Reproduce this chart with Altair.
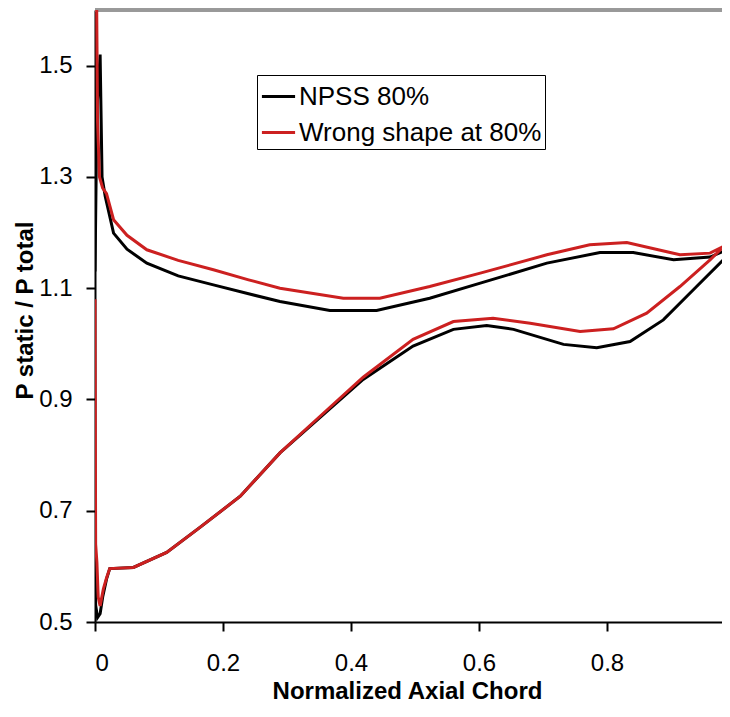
import altair as alt
import pandas as pd

series_names = ["NPSS 80%", "Wrong shape at 80%"]
series_colors = ["#000000", "#cc2020"]
x_ticks = [0, 0.2, 0.4, 0.6, 0.8, 1.0]
y_ticks = [0.5, 0.7, 0.9, 1.1, 1.3, 1.5]

# NPSS 80% : closed blade loop (upper surface LE->TE, then lower surface TE->LE)
black_x = [0.000, 0.003, 0.008, 0.011, 0.016, 0.029, 0.050, 0.081, 0.130, 0.185,
           0.240, 0.289, 0.367, 0.440, 0.523, 0.602, 0.706, 0.789, 0.841, 0.904,
           0.961, 0.987, 1.000,
           0.987, 0.940, 0.888, 0.836, 0.784, 0.732, 0.654, 0.612, 0.560, 0.497,
           0.419, 0.350, 0.289, 0.227, 0.164, 0.112, 0.060, 0.023, 0.018, 0.012,
           0.008, 0.004, 0.001, 0.000]
black_y = [1.130, 1.420, 1.520, 1.300, 1.265, 1.199, 1.170, 1.145, 1.122, 1.106,
           1.090, 1.076, 1.060, 1.060, 1.082, 1.109, 1.145, 1.164, 1.164, 1.151,
           1.156, 1.169, 1.175,
           1.157, 1.103, 1.043, 1.004, 0.993, 0.999, 1.026, 1.033, 1.026, 0.996,
           0.936, 0.866, 0.804, 0.726, 0.670, 0.625, 0.598, 0.596, 0.577, 0.545,
           0.515, 0.508, 0.530, 0.600]

# Wrong shape at 80%
red_x = [0.002, 0.004, 0.007, 0.012, 0.018, 0.029, 0.050, 0.081, 0.130, 0.185,
         0.240, 0.289, 0.388, 0.445, 0.523, 0.602, 0.706, 0.773, 0.831, 0.914,
         0.961, 0.987, 1.000,
         0.987, 0.961, 0.914, 0.862, 0.810, 0.758, 0.680, 0.622, 0.560, 0.497,
         0.419, 0.350, 0.289, 0.227, 0.164, 0.112, 0.060, 0.023, 0.018, 0.013,
         0.008, 0.005, 0.003, 0.001, 0.000]
red_y = [1.700, 1.400, 1.300, 1.280, 1.270, 1.223, 1.195, 1.169, 1.150, 1.133,
         1.115, 1.100, 1.082, 1.082, 1.103, 1.127, 1.160, 1.178, 1.182, 1.160,
         1.163, 1.178, 1.190,
         1.180, 1.151, 1.103, 1.055, 1.027, 1.022, 1.037, 1.046, 1.040, 1.008,
         0.940, 0.868, 0.804, 0.726, 0.670, 0.625, 0.598, 0.596, 0.579, 0.559,
         0.529, 0.545, 0.607, 0.640, 1.080]

rows = []
for i, (x, y) in enumerate(zip(black_x, black_y)):
    rows.append({"x": x, "y": y, "series": series_names[0], "i": i})
for i, (x, y) in enumerate(zip(red_x, red_y)):
    rows.append({"x": x, "y": y, "series": series_names[1], "i": i})
df = pd.DataFrame(rows)

W = 627          # visible part of the plot (the original is cut at the right edge)
H = 612
X_MAX = W / 640  # x = 1 lies just beyond the visible edge
FONT = "Liberation Sans"

lines = alt.Chart(df).mark_line(strokeWidth=3, clip=True).encode(
    x=alt.X("x:Q",
            scale=alt.Scale(domain=[0, X_MAX], nice=False, zero=False),
            axis=alt.Axis(values=x_ticks, format="~g", title="Normalized Axial Chord",
                          titleX=312, titleY=76, titleBaseline="alphabetic",
                          titleAlign="center", labelPadding=20, titleFontSize=24)),
    y=alt.Y("y:Q",
            scale=alt.Scale(domain=[0.5, 1.6], nice=False, zero=False),
            axis=alt.Axis(values=y_ticks, format="~g", title="P static / P total",
                          titleX=-63, titleY=300, titleAngle=-90,
                          titleBaseline="alphabetic", titleAlign="center",
                          labelPadding=14, titleFontSize=24)),
    color=alt.Color("series:N",
                    scale=alt.Scale(domain=series_names, range=series_colors),
                    legend=alt.Legend(title=None, orient="none", legendX=162, legendY=65,
                                      strokeColor="black", fillColor="white", padding=3,
                                      symbolType="stroke", symbolStrokeWidth=3,
                                      symbolSize=1100, labelFontSize=26, labelFont=FONT,
                                      labelColor="black", rowPadding=4, labelOffset=2,
                                      labelLimit=400, cornerRadius=0)),
    order=alt.Order("i:Q"),
)

top_border = alt.Chart(df).mark_rule(color="#999999", strokeWidth=3).encode(
    x=alt.value(0), x2=alt.value(W), y=alt.value(0)
)

chart = alt.layer(top_border, lines).properties(
    width=W, height=H,
    autosize=alt.AutoSizeParams(type="none"),
    padding={"left": 87, "top": 2, "right": 0, "bottom": 82},
    background="white",
).configure_view(stroke="transparent").configure_axis(
    labelFont=FONT, labelFontSize=24, labelColor="black",
    titleFont=FONT, titleFontWeight="bold", titleColor="black",
    domainColor="black", domainWidth=2, tickColor="black", tickWidth=2,
    tickSize=9, grid=False,
)

chart.save("out.html", embed_options={"renderer": "svg", "actions": False})
